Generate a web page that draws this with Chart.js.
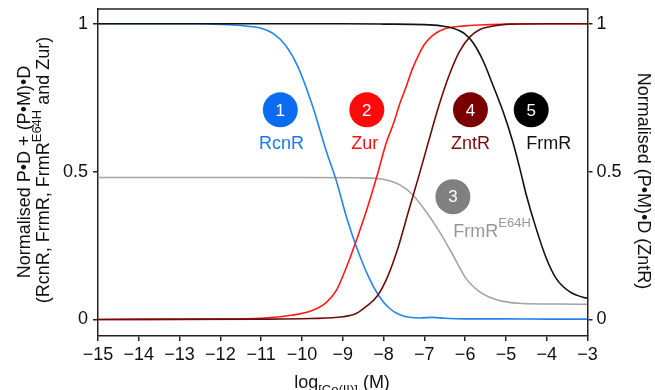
<!DOCTYPE html>
<html lang="en">
<head>
<meta charset="UTF-8">
<title>Normalised DNA occupancy vs Co(II)</title>
<script src="https://cdn.jsdelivr.net/npm/chart.js"></script>
<style>
  html, body { margin: 0; padding: 0; background: #fff; }
  #wrap { width: 655px; height: 390px; }
</style>
</head>
<body>
<div id="wrap"><canvas id="coChart" width="655" height="390"></canvas></div>
<script>
// values (x = log[Co(II)] in M)
const xTicks = [-15, -14, -13, -12, -11, -10, -9, -8, -7, -6, -5, -4, -3];
const yTicks = [0, 0.5, 1];

const rcnrX = [-15, -13, -12.5, -12, -11.5, -11, -10.7, -10.4, -10.1, -9.75, -9.4, -9.15, -8.9, -8.65, -8.35, -8.1, -7.85, -7.6, -7.1, -6.8, -6.5, -6, -5, -4, -3];
const rcnrY = [1, 1, 1, 0.998, 0.994, 0.985, 0.967, 0.927, 0.855, 0.726, 0.568, 0.466, 0.342, 0.24, 0.139, 0.077, 0.037, 0.016, 0.005, 0.007, 0.004, 0.002, 0.002, 0.001, 0.001];

const zurX = [-15, -12, -11, -10.25, -9.75, -9.4, -9.15, -8.9, -8.65, -8.4, -8.15, -7.95, -7.75, -7.6, -7.45, -7.3, -7.12, -7.0, -6.8, -6.5, -6.0, -5.4, -4, -3];
const zurY = [0, 0.001, 0.004, 0.014, 0.03, 0.058, 0.1, 0.18, 0.274, 0.376, 0.49, 0.59, 0.665, 0.73, 0.785, 0.845, 0.9, 0.93, 0.96, 0.983, 0.993, 0.997, 1, 1];

const zntrX = [-15, -11, -9.8, -9.0, -8.67, -8.43, -8.15, -7.9, -7.65, -7.4, -7.15, -6.9, -6.65, -6.38, -6.14, -5.89, -5.65, -5.4, -4.9, -4, -3];
const zntrY = [0, 0.001, 0.003, 0.009, 0.02, 0.043, 0.08, 0.145, 0.24, 0.36, 0.478, 0.6, 0.72, 0.83, 0.906, 0.955, 0.98, 0.99, 0.999, 1, 1];

const frmrE64hX = [-15, -10, -8.6, -8.1, -7.6, -7.28, -6.96, -6.63, -6.3, -5.98, -5.65, -5.4, -5.1, -4.6, -3.7, -3];
const frmrE64hY = [0.48, 0.48, 0.479, 0.476, 0.455, 0.421, 0.365, 0.297, 0.218, 0.139, 0.094, 0.075, 0.062, 0.054, 0.052, 0.051];

const frmrX = [-15, -9, -8, -7, -6.6, -6.3, -6.0, -5.8, -5.56, -5.32, -5.07, -4.83, -4.66, -4.5, -4.26, -4.01, -3.77, -3.44, -3.05, -3];
const frmrY = [1, 1, 0.999, 0.997, 0.993, 0.985, 0.965, 0.935, 0.875, 0.793, 0.703, 0.6, 0.511, 0.421, 0.308, 0.207, 0.139, 0.094, 0.073, 0.072];

const FONT = '"Liberation Sans", Arial, Helvetica, sans-serif';
const fmt = v => (v < 0 ? '\u2212' + Math.abs(v) : String(v));
const pts = (xs, ys) => xs.map((x, i) => ({ x: x, y: ys[i] }));

// numbered badges and names, in data coordinates
const badges = [
  { n: '1', x: -10.53, y: 0.709, fill: '#0b6cf2' },
  { n: '2', x: -8.41, y: 0.709, fill: '#ff0a0a' },
  { n: '3', x: -6.30, y: 0.415, fill: '#808080' },
  { n: '4', x: -5.87, y: 0.709, fill: '#7a0000' },
  { n: '5', x: -4.38, y: 0.709, fill: '#000000' }
];
const names = [
  { parts: [['RcnR', false]], x: -10.50, y: 0.594, color: '#1a78f2' },
  { parts: [['Zur', false]], x: -8.46, y: 0.594, color: '#ff1010' },
  { parts: [['ZntR', false]], x: -5.87, y: 0.594, color: '#7a0a0a' },
  { parts: [['FrmR', false]], x: -3.95, y: 0.594, color: '#111111' },
  { parts: [['FrmR', false], ['E64H', true]], x: -5.34, y: 0.297, color: '#979797' }
];

// draws a run of text pieces, some raised (sup) or lowered (sub), centred on 0
function drawRuns(ctx, runs, size, small, shift) {
  const widths = runs.map(r => {
    ctx.font = (r[1] ? small : size) + 'px ' + FONT;
    return ctx.measureText(r[0]).width;
  });
  let x = -widths.reduce((a, b) => a + b, 0) / 2;
  runs.forEach((r, i) => {
    ctx.font = (r[1] ? small : size) + 'px ' + FONT;
    ctx.textAlign = 'left';
    ctx.fillText(r[0], x, r[1] ? shift : 0);
    x += widths[i];
  });
}

const decorPlugin = {
  id: 'decor',
  afterDatasetsDraw(chart) {
    const ctx = chart.ctx;
    const xs = chart.scales.x, ys = chart.scales.y;
    const area = chart.chartArea;
    ctx.save();
    // top frame line
    ctx.strokeStyle = '#222';
    ctx.lineWidth = 1.5;
    ctx.beginPath();
    ctx.moveTo(area.left, area.top);
    ctx.lineTo(area.right, area.top);
    ctx.stroke();

    badges.forEach(b => {
      const px = xs.getPixelForValue(b.x), py = ys.getPixelForValue(b.y);
      ctx.fillStyle = b.fill;
      ctx.beginPath();
      ctx.arc(px, py, 17.5, 0, Math.PI * 2);
      ctx.fill();
      ctx.fillStyle = '#fff';
      ctx.font = '17px ' + FONT;
      ctx.textAlign = 'center';
      ctx.textBaseline = 'middle';
      ctx.fillText(b.n, px, py + 1);
    });

    names.forEach(l => {
      ctx.save();
      ctx.translate(xs.getPixelForValue(l.x), ys.getPixelForValue(l.y));
      ctx.fillStyle = l.color;
      ctx.textBaseline = 'middle';
      drawRuns(ctx, l.parts, 18, 13, -8);
      ctx.restore();
    });

    // axis titles
    ctx.fillStyle = '#111';
    ctx.textBaseline = 'middle';
    ctx.save();
    ctx.translate(25, 172);
    ctx.rotate(-Math.PI / 2);
    drawRuns(ctx, [['Normalised P\u2022D + (P\u2022M)\u2022D', false]], 18, 13, 0);
    ctx.restore();

    ctx.save();
    ctx.translate(44, 170);
    ctx.rotate(-Math.PI / 2);
    drawRuns(ctx, [['(RcnR, FrmR, FrmR', false], ['E64H', true], [' and Zur)', false]], 18, 13, -7);
    ctx.restore();

    ctx.save();
    ctx.translate(643, 181);
    ctx.rotate(Math.PI / 2);
    drawRuns(ctx, [['Normalised (P\u2022M)\u2022D (ZntR)', false]], 18, 13, 0);
    ctx.restore();

    ctx.save();
    ctx.translate(342, 383);
    drawRuns(ctx, [['log', false], ['[Co(II)]', true], [' (M)', false]], 18, 13, 7);
    ctx.restore();

    ctx.restore();
  }
};

const lineSet = (label, xs, ys, color) => ({
  label: label,
  data: pts(xs, ys),
  borderColor: color,
  borderWidth: 1.6,
  pointRadius: 0,
  fill: false,
  cubicInterpolationMode: 'monotone'
});

const axisGrid = { drawOnChartArea: false, drawTicks: true, tickLength: 5, color: '#222', lineWidth: 1.5 };
const axisBorder = { display: true, color: '#222', width: 1.5 };
const tickFont = { family: FONT, size: 18 };

// fixed box sizes so the plot frame lands where it does in the reference
const fitY = w => s => { s.width = w; s.paddingTop = 0; s.paddingBottom = 0; };

new Chart(document.getElementById('coChart'), {
  type: 'line',
  data: {
    datasets: [
      lineSet('FrmR', frmrX, frmrY, '#111111'),
      lineSet('ZntR', zntrX, zntrY, '#6e0c0c'),
      lineSet('Zur', zurX, zurY, '#ff1a1a'),
      lineSet('RcnR', rcnrX, rcnrY, '#2384f0'),
      lineSet('FrmR E64H', frmrE64hX, frmrE64hY, '#a4a4a4')
    ]
  },
  options: {
    responsive: false,
    animation: false,
    layout: { padding: { top: 9, left: 0, right: 0, bottom: 0 } },
    plugins: { legend: { display: false }, tooltip: { enabled: false } },
    scales: {
      x: {
        type: 'linear',
        position: 'bottom',
        min: -15,
        max: -3,
        afterBuildTicks: s => { s.ticks = xTicks.map(v => ({ value: v })); },
        afterFit: s => { s.height = 54; },
        ticks: { callback: fmt, font: tickFont, color: '#111', padding: 3, maxRotation: 0, autoSkip: false },
        grid: axisGrid,
        border: axisBorder
      },
      y: {
        position: 'left',
        min: -0.056,
        max: 1.05,
        afterBuildTicks: s => { s.ticks = yTicks.map(v => ({ value: v })); },
        afterFit: fitY(98),
        ticks: { callback: fmt, font: tickFont, color: '#111', padding: 5 },
        grid: axisGrid,
        border: axisBorder
      },
      y2: {
        position: 'right',
        min: -0.056,
        max: 1.05,
        afterBuildTicks: s => { s.ticks = yTicks.map(v => ({ value: v })); },
        afterFit: fitY(67.5),
        ticks: { callback: fmt, font: tickFont, color: '#111', padding: 4 },
        grid: axisGrid,
        border: axisBorder
      }
    }
  },
  plugins: [decorPlugin]
});
</script>
</body>
</html>
